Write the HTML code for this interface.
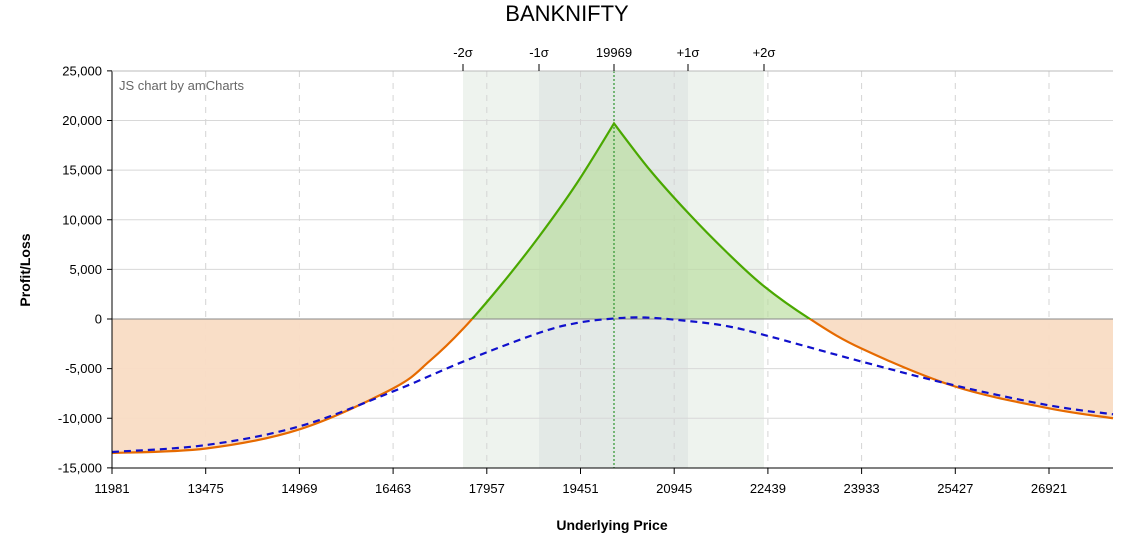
<!DOCTYPE html>
<html><head><meta charset="utf-8"><style>
body{margin:0;background:#fff;}
svg{display:block;font-family:"Liberation Sans",sans-serif;}
</style></head><body>
<svg id="s" width="1138" height="545" xmlns="http://www.w3.org/2000/svg">
<defs>
<clipPath id="above"><rect x="100" y="60" width="1020" height="259"/></clipPath>
<clipPath id="below"><rect x="100" y="319" width="1020" height="160"/></clipPath>
</defs>
<rect x="0" y="0" width="1138" height="545" fill="#fff"/>
<text x="567" y="21" font-size="22" text-anchor="middle" fill="#000">BANKNIFTY</text>
<rect x="463" y="71" width="301" height="397" fill="#eef3ee"/>
<rect x="539" y="71" width="149" height="397" fill="#e3e9e6"/>
<g id="grid"></g>
<path id="fillO" fill="#f9dcc4" opacity="0.95" clip-path="url(#below)"/>
<path id="fillG" fill="#b8dd9c" opacity="0.65" clip-path="url(#above)"/>
<line x1="112" y1="319" x2="1113" y2="319" stroke="#888" stroke-width="1"/>
<line x1="614" y1="71" x2="614" y2="468" stroke="#3a9a3a" stroke-width="1.3" stroke-dasharray="2,2"/>
<path id="curveO" fill="none" stroke="#e66a00" stroke-width="2.2" clip-path="url(#below)"/>
<path id="curveG" fill="none" stroke="#4aa800" stroke-width="2.2" clip-path="url(#above)"/>
<path id="blue" fill="none" stroke="#1010cc" stroke-width="2.2" stroke-dasharray="7,5"/>
<line x1="112" y1="71" x2="112" y2="468" stroke="#000"/>
<line x1="112" y1="468" x2="1113" y2="468" stroke="#000"/>
<line x1="112" y1="71" x2="1113" y2="71" stroke="#bbb"/>
<text x="119" y="90" font-size="13" fill="#666">JS chart by amCharts</text>
<text x="30" y="270" font-size="14" font-weight="bold" text-anchor="middle" transform="rotate(-90 30 270)">Profit/Loss</text>
<text x="612" y="530" font-size="14" font-weight="bold" text-anchor="middle">Underlying Price</text>
<g id="lab" font-size="13" fill="#000"></g>
</svg>
<script>
var ns="http://www.w3.org/2000/svg";
function el(p,t,a,txt){var e=document.createElementNS(ns,t);for(var k in a)e.setAttribute(k,a[k]);if(txt!==undefined)e.textContent=txt;document.getElementById(p).appendChild(e);return e;}
function Y(v){return 319-v*0.009925;}
for(var v=-15000;v<=25000;v+=5000){
 if(v!==0&&v!==-15000&&v!==25000) el("grid","line",{x1:112,x2:1113,y1:Y(v),y2:Y(v),stroke:"#d8d8d8"});
 el("lab","line",{x1:107,x2:112,y1:Y(v),y2:Y(v),stroke:"#000"});
 el("lab","text",{x:102,y:Y(v)+4.5,"text-anchor":"end"},v.toLocaleString("en-US"));
}
for(var k=0;k<11;k++){
 var x=112+k*93.7, val=11981+1494*k;
 if(k>0) el("grid","line",{x1:x,x2:x,y1:71,y2:468,stroke:"#d4d4d4","stroke-dasharray":"6,6"});
 el("lab","line",{x1:x,x2:x,y1:468,y2:474,stroke:"#000"});
 el("lab","text",{x:x,y:493,"text-anchor":"middle"},val);
}
var topLabels=[[463,"-2σ"],[539,"-1σ"],[614,"19969"],[688,"+1σ"],[764,"+2σ"]];
topLabels.forEach(function(t){el("lab","line",{x1:t[0],x2:t[0],y1:64,y2:71,stroke:"#000"});el("lab","text",{x:t[0],y:57,"text-anchor":"middle"},t[1]);});
function spline(pts,noM){
 var d=noM?"":"M"+pts[0][0]+","+pts[0][1];
 for(var i=0;i<pts.length-1;i++){
  var p0=pts[Math.max(i-1,0)],p1=pts[i],p2=pts[i+1],p3=pts[Math.min(i+2,pts.length-1)];
  var c1=[p1[0]+(p2[0]-p0[0])/6,p1[1]+(p2[1]-p0[1])/6],c2=[p2[0]-(p3[0]-p1[0])/6,p2[1]-(p3[1]-p1[1])/6];
  d+="C"+c1+" "+c2+" "+p2;
 }
 return d;
}
function P(a){return a.map(function(q){return [q[0],Y(q[1])];});}
var Lp=P([[112,-13500],[206,-13050],[300,-11100],[393,-7000],[430,-4200],[463,-1000],[500,3300],[539,8300],[577,13700],[614,19700]]);
var Rp=P([[614,19700],[650,15000],[688,10700],[726,6800],[764,3300],[810,0],[862,-3000],[955,-6800],[1049,-9000],[1113,-10000]]);
var d=spline(Lp)+spline(Rp,true);
document.getElementById("curveO").setAttribute("d",d);
document.getElementById("curveG").setAttribute("d",d);
var f=d+"L1113,319L112,319Z";
document.getElementById("fillO").setAttribute("d",f);
document.getElementById("fillG").setAttribute("d",f);
var B=P([[112,-13400],[206,-12700],[300,-10800],[393,-7300],[463,-4300],[539,-1400],[577,-400],[614,50],[645,150],[688,-200],[726,-700],[764,-1600],[862,-4300],[955,-6700],[1049,-8700],[1113,-9600]]);
document.getElementById("blue").setAttribute("d",spline(B));
</script>
</body></html>
